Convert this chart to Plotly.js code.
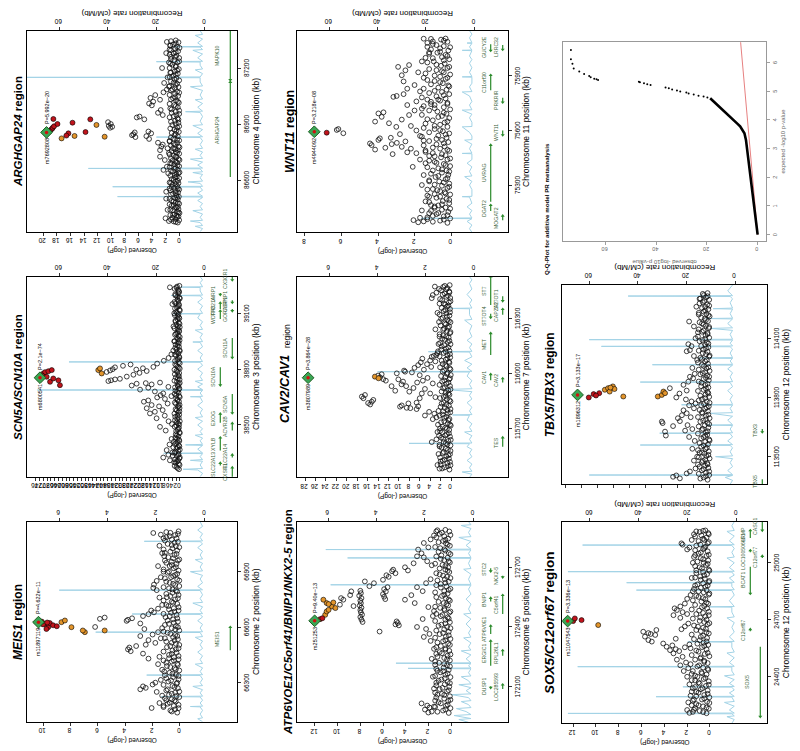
<!DOCTYPE html>
<html><head><meta charset="utf-8">
<script src="https://cdn.plot.ly/plotly-3.0.1.min.js"></script>
<style>
html,body{margin:0;padding:0;background:#fff;overflow:hidden;width:800px;height:751px;}
#wrap{position:absolute;left:0;top:0;width:751px;height:800px;transform-origin:0 0;transform:translate(0px,751px) rotate(-90deg);}
#plot{width:751px;height:800px;}
</style></head><body>
<div id="wrap"><div id="plot"></div></div>
<script>
// ---------------- DATA ----------------
// lead SNPs, panel order: MEIS1, SCN5A/SCN10A, ARGHGAP24, ATP6V0E1, CAV2/CAV1, WNT11, SOX5, TBX5/TBX3
const leadSnp  = ['rs11897119','rs6800541','rs7692808','rs251253','rs3807989','rs4944092','rs11047543','rs1896312'];
const leadPval = ['P=4.622e\u221211','P=2.1e\u221274','P=5.992e\u221220','P=9.40e\u221213','P=3.864e\u221228','P=3.218e\u221208','P=3.336e\u221213','P=3.133e\u221217'];
const leadPos  = [66627, 38754, 86855, 172431, 115976, 75593, 24693, 113813];
const leadLogP = [10.34, 73.7, 19.5, 12.03, 27.41, 7.49, 12.48, 16.5];

// ---- MEIS1 (chr2) ----
const meis1Snps = [[66138,0.2],[66150,0.7],[66162,0.1],[66174,0.45],[66186,0.9],[66198,0.3],[66210,0.6],[66222,0.05],[66234,0.8],[66246,0.35],[66258,1.0],[66270,0.15],[66282,0.55],[66294,0.25],[66306,0.85],[66318,0.1],[66330,0.5],[66342,0.3],[66354,0.75],[66366,0.05],[66378,0.4],[66390,0.95],[66402,0.2],[66414,0.6],[66426,0.1],[66438,0.45],[66450,0.8],[66462,0.25],[66474,0.55],[66486,0.1],[66498,0.7],[66510,0.3],[66522,1.0],[66534,0.15],[66546,0.5],[66558,0.35],[66570,0.9],[66582,0.05],[66594,0.6],[66606,0.3],[66618,0.8],[66630,0.15],[66642,0.5],[66654,1.05],[66666,0.25],[66678,0.65],[66690,0.1],[66702,0.45],[66714,0.85],[66726,0.2],[66738,0.6],[66750,0.35],[66762,0.95],[66774,0.1],[66786,0.55],[66798,0.3],[66810,0.8],[66822,0.05],[66834,0.5],[66846,1.0],[66858,0.2],[66870,0.65],[66882,0.35],[66894,0.9],[66906,0.1],[66918,0.45],[66930,0.75],[66942,0.25],[66954,0.6],[66966,0.05],[66978,0.85],[66990,0.4],[67002,1.1],[67014,0.2],[67026,0.55],[67038,0.3],[67050,0.9],[67062,0.15],[67074,0.6],[67086,1.0],[67098,0.35],[67110,0.7],[67118,0.1],
 [66163,2.07],[66175,1.2],[66190,1.5],[66205,1.0],[66230,1.3],[66250,1.7],[66264,2.9],[66272,2.5],[66280,2.7],[66290,2.0],[66300,1.8],[66315,1.4],[66340,1.1],[66370,1.3],[66400,1.6],[66420,1.2],[66430,2.3],[66440,1.5],[66457,2.7],[66470,3.6],[66480,3.8],[66490,3.7],[66498,3.2],[66505,2.5],[66515,1.8],[66530,2.3],[66540,1.4],[66552,2.9],[66560,2.0],[66573,1.6],[66590,2.6],[66595,1.3],[66601,6.2],[66645,5.85],[66652,5.5],[66634,3.9],[66640,3.8],[66648,3.5],[66620,2.9],[66660,2.7],[66670,2.3],[66680,1.9],[66690,2.1],[66700,1.6],[66720,1.3],[66760,1.5],[66800,1.7],[66812,1.95],[66830,1.9],[66850,1.7],[66870,1.4],[66900,1.2],[66930,1.6],[66960,1.1],[67000,1.3],[67040,1.5],[67080,1.2],[67100,1.4],[67109,1.95]];
const meis1Snps2 = [[66144,0.6],[66156,0.35],[66168,1.2],[66180,0.1],[66192,0.75],[66204,0.4],[66216,1.1],[66228,0.25],[66240,0.6],[66252,0.05],[66264,0.9],[66276,0.4],[66288,1.2],[66300,0.2],[66312,0.65],[66324,1.0],[66336,0.1],[66348,0.55],[66360,1.15],[66372,0.3],[66384,0.7],[66396,0.15],[66408,1.0],[66420,0.45],[66432,0.8],[66444,0.1],[66456,0.6],[66468,1.2],[66480,0.3],[66492,0.95],[66504,0.05],[66516,0.6],[66528,0.4],[66540,1.1],[66552,0.2],[66564,0.7],[66576,1.2],[66588,0.35],[66600,0.15],[66612,1.1],[66624,0.45],[66636,0.9],[66648,0.2],[66660,0.75],[66672,1.2],[66684,0.4],[66696,0.8],[66708,0.1],[66720,1.0],[66732,0.5],[66744,1.2],[66756,0.15],[66768,0.7],[66780,1.0],[66792,0.2],[66804,0.55],[66816,1.2],[66828,0.35],[66840,0.75],[66852,0.05],[66864,1.1],[66876,0.5],[66888,0.2],[66900,0.8],[66912,1.2],[66924,0.3],[66936,0.6],[66948,1.0],[66960,0.15],[66972,0.5],[66984,1.15],[66996,0.25],[67008,0.7],[67020,1.2],[67032,0.05],[67044,0.6],[67056,0.4],[67068,1.1],[67080,0.25],[67092,0.75],[67104,0.15],[67114,1.0]];
const meis1Red = [[66618,9.88],[66600,9.63],[66622,9.51],[66610,9.27],[66590,9.76],[66605,9.0],[66615,10.0],[66630,10.1],[66625,9.7]];
const meis1Orange = [[66627,8.66],[66636,8.41],[66600,7.93],[66573,6.95],[66582,7.1],[66582,5.5]];
const meis1Recomb = [[66089,1],[66105,3],[66110,1],[66130,2],[66150,1],[66169,2],[66171,6],[66173,1],[66190,2],[66205,1],[66223,2],[66225,18],[66227,1],[66245,2],[66262,1],[66280,5],[66284,1],[66300,2],[66320,1],[66339,2],[66341,24],[66343,1],[66360,2],[66380,1],[66400,4],[66404,1],[66425,2],[66445,1],[66465,3],[66485,1],[66505,2],[66525,1],[66545,4],[66549,1],[66571,2],[66573,45],[66575,1],[66595,2],[66615,1],[66635,3],[66655,1],[66669,2],[66671,30],[66673,1],[66690,2],[66710,1],[66730,5],[66734,1],[66755,2],[66775,1],[66798,2],[66800,60],[66802,1],[66820,3],[66840,1],[66860,2],[66880,1],[66900,6],[66904,1],[66925,2],[66945,1],[66965,4],[66969,1],[66990,2],[67010,1],[67030,3],[67050,1],[67062,2],[67064,25],[67066,1],[67085,2],[67105,1],[67125,3],[67145,1],[67170,2]];
const meis1Genes = [['MEIS1',66475,66600,'+',2]];

// ---- SCN5A/SCN10A (chr3) ----
const scnSnps = [[38262,0.5],[38274,1.8],[38285,0.2],[38297,2.3],[38309,1.0],[38320,0.3],[38332,1.6],[38344,0.7],[38356,2.4],[38367,0.1],[38379,1.2],[38391,0.6],[38403,2.0],[38414,0.3],[38426,1.5],[38438,0.8],[38450,2.2],[38461,0.2],[38473,1.1],[38485,0.5],[38497,1.9],[38508,0.9],[38520,0.1],[38532,1.4],[38544,2.5],[38555,0.4],[38567,1.0],[38579,1.7],[38591,0.2],[38602,0.8],[38614,2.1],[38626,0.5],[38638,1.3],[38650,0.1],[38661,1.9],[38673,0.7],[38685,2.4],[38697,0.3],[38708,1.0],[38720,0.6],[38732,1.6],[38744,0.2],[38756,2.2],[38767,0.9],[38779,0.4],[38791,1.8],[38803,0.1],[38814,1.2],[38826,2.5],[38838,0.6],[38850,1.4],[38861,0.3],[38873,2.0],[38885,0.8],[38897,0.1],[38908,1.7],[38920,0.5],[38932,2.3],[38944,1.0],[38955,0.2],[38967,1.5],[38979,0.7],[38991,2.1],[39002,0.4],[39014,1.1],[39026,0.1],[39038,1.9],[39049,0.6],[39061,2.4],[39073,0.3],[39085,1.3],[39096,0.8],[39108,2.0],[39120,0.2],[39132,1.6],[39143,0.5],[39155,2.2],[39167,0.9],[39179,0.1],[39190,1.4],[39202,2.5],[39214,0.4],[39226,1.0],[39238,1.8],[39248,0.3],
 [38300,3.0],[38310,5.3],[38325,8.8],[38335,3.8],[38340,6.1],[38352,4.0],[38365,7.0],[38380,3.5],[38395,5.5],[38410,3.2],[38425,4.4],[38470,7.5],[38490,10.5],[38505,4.2],[38520,6.0],[38536,12.3],[38550,8.0],[38562,15.8],[38571,13.2],[38580,9.1],[38590,17.5],[38600,11.0],[38607,14.9],[38615,6.5],[38625,19.0],[38632,16.7],[38640,7.9],[38648,12.0],[38655,4.5],[38660,10.2],[38670,8.8],[38680,13.2],[38690,21.0],[38700,16.7],[38705,6.1],[38712,25.4],[38718,14.9],[38722,22.8],[38725,18.0],[38728,10.5],[38736,37.7],[38740,36.3],[38745,34.2],[38748,31.6],[38760,28.0],[38770,24.5],[38780,21.3],[38785,38.6],[38790,17.5],[38793,36.8],[38798,23.0],[38800,35.4],[38805,19.5],[38810,34.2],[38812,14.0],[38818,30.0],[38825,26.0],[38830,12.0],[38845,8.5],[38860,6.0],[38880,4.5],[38900,3.5],[38950,3.0],[39030,3.4],[39100,3.0],[39150,4.0],[39240,5.3]];
const scnSnps2 = [[38268,1.2],[38280,2.8],[38291,0.6],[38303,1.5],[38315,2.6],[38326,0.1],[38338,1.0],[38350,2.9],[38361,0.9],[38373,1.8],[38385,0.3],[38397,2.7],[38408,1.3],[38420,0.5],[38432,2.4],[38444,1.6],[38456,0.1],[38467,2.0],[38479,0.9],[38491,2.8],[38502,0.4],[38514,1.7],[38526,2.6],[38538,0.6],[38549,1.3],[38561,2.9],[38573,0.3],[38585,2.3],[38596,1.1],[38608,0.2],[38620,2.7],[38632,1.2],[38644,2.0],[38655,0.4],[38667,2.8],[38679,1.5],[38691,0.6],[38702,2.6],[38714,1.3],[38726,0.1],[38738,2.9],[38750,1.1],[38761,0.5],[38773,2.7],[38785,1.4],[38797,2.9],[38808,0.6],[38820,1.9],[38832,0.1],[38844,2.6],[38855,1.0],[38867,0.4],[38879,2.7],[38891,1.6],[38902,0.2],[38914,2.5],[38926,1.2],[38938,0.6],[38950,2.8],[38961,1.0],[38973,0.1],[38985,2.6],[38996,1.4],[39008,0.5],[39020,2.9],[39032,1.0],[39043,0.2],[39055,2.3],[39067,1.2],[39079,0.6],[39090,2.7],[39102,1.5],[39114,0.1],[39126,2.6],[39137,1.1],[39149,0.6],[39161,2.9],[39173,1.3],[39184,0.2],[39196,2.4],[39208,1.0],[39220,0.6],[39232,2.8],[39244,1.5]];
const scnRed = [[38777,71.9],[38759,70.2],[38732,68.4],[38750,66.7],[38740,64.0],[38714,63.2],[38784,71.0],[38789,69.3],[38795,67.5],[38765,72.5]];
const scnOrange = [[38795,43.0],[38804,42.1],[38777,41.2]];
const scnRecomb = [[38222,2],[38240,1],[38258,3],[38262,9],[38266,1],[38285,2],[38305,1],[38310,6],[38314,1],[38330,2],[38346,1],[38348,17],[38350,1],[38370,3],[38390,1],[38393,8],[38396,1],[38415,2],[38430,1],[38445,4],[38449,1],[38465,2],[38480,1],[38500,3],[38520,1],[38540,4],[38544,1],[38565,2],[38585,1],[38605,3],[38625,1],[38650,2],[38652,6],[38654,1],[38672,2],[38686,1],[38688,69],[38690,1],[38705,3],[38720,1],[38735,4],[38740,1],[38760,2],[38780,1],[38800,3],[38820,1],[38837,2],[38839,56],[38841,1],[38860,2],[38880,1],[38900,3],[38920,1],[38944,2],[38946,5],[38948,1],[38970,2],[38990,1],[39010,4],[39014,1],[39035,2],[39055,1],[39075,3],[39096,2],[39098,13],[39100,1],[39120,2],[39140,1],[39160,3],[39180,1],[39194,2],[39196,14],[39198,1],[39220,2],[39239,2],[39241,10],[39243,1],[39265,2],[39280,1],[39297,2]];
const scnGenes = [['OXSR1',38181,38271,'+',1],['SLC22A13',38282,38295,'+',0],['SLC22A14',38325,38340,'+',1],['XYLB',38363,38432,'+',0],['ACVR2B',38470,38509,'+',1],['EXOG',38512,38560,'+',0],['SCN5A',38564,38666,'-',1],['SCN10A',38714,38810,'-',0],['SCN11A',38862,38967,'-',1],['WDR48',39069,39113,'+',0],['GORASP1',39113,39124,'-',1],['TTC21A',39124,39156,'+',0],['CSRNP1',39158,39171,'-',1],['XIRP1',39200,39209,'-',0],['CX3CR1',39279,39297,'-',1]];

// ---- ARGHGAP24 (chr4) ----
const argSnps = [[86372,0.3],[86378,0.9],[86385,0.1],[86391,0.6],[86398,1.1],[86404,0.2],[86410,0.5],[86417,0.8],[86423,0.05],[86430,0.4],[86437,1.0],[86444,0.2],[86451,0.7],[86458,0.3],[86466,0.9],[86473,0.1],[86480,0.6],[86489,1.2],[86496,0.3],[86503,0.7],[86511,0.15],[86518,0.5],[86526,1.0],[86534,0.25],[86541,0.6],[86549,0.1],[86558,0.8],[86566,0.35],[86574,1.1],[86583,0.2],[86591,0.55],[86600,0.9],[86610,0.1],[86619,0.45],[86628,0.75],[86637,0.2],[86646,1.0],[86655,0.3],[86664,0.6],[86674,0.1],[86684,0.8],[86693,0.4],[86703,1.1],[86712,0.2],[86722,0.5],[86731,0.9],[86741,0.1],[86750,0.6],[86760,0.3],[86770,1.0],[86780,0.2],[86790,0.7],[86800,0.4],[86812,0.1],[86822,0.9],[86834,0.3],[86846,0.6],[86858,0.15],[86870,0.8],[86882,0.4],[86895,1.1],[86906,0.2],[86918,0.7],[86930,0.35],[86942,0.9],[86954,0.1],[86966,0.6],[86978,1.2],[86990,0.3],[87002,0.8],[87014,0.15],[87026,0.55],[87038,1.0],[87050,0.25],[87062,0.7],[87074,0.4],[87086,1.1],[87098,0.2],[87110,0.6],[87122,0.9],[87134,0.1],[87146,0.5],[87158,1.0],[87170,0.3],[87182,0.75],[87194,0.15],[87206,0.6],[87218,1.1],[87230,0.35],[87242,0.8],[87254,0.1],[87266,0.5],[87278,0.9],[87290,0.25],[87302,0.7],[87314,0.4],[87326,1.0],[87338,0.2],[87348,0.6],
 [86380,1.6],[86395,2.1],[86412,1.4],[86440,1.8],[86470,1.5],[86500,2.0],[86537,2.0],[86555,1.5],[86585,1.3],[86636,1.7],[86654,2.4],[86671,1.9],[86690,1.4],[86707,2.2],[86725,2.9],[86745,1.6],[86760,2.9],[86770,1.8],[86779,2.7],[86790,2.5],[86800,3.2],[86810,1.5],[86820,4.5],[86835,4.9],[86850,4.2],[86860,4.6],[86830,6.5],[86845,6.8],[86855,6.6],[86840,7.0],[86880,10.2],[86890,10.4],[86900,10.1],[86910,10.5],[86885,9.9],[86925,5.2],[86935,6.3],[86940,5.9],[86948,2.5],[86960,3.2],[86975,2.8],[87000,4.1],[87010,4.5],[87020,3.9],[87030,2.9],[87040,4.3],[87055,3.6],[87070,2.4],[87085,1.9],[87100,1.6],[87120,2.3],[87150,1.8],[87175,1.4],[87200,2.6],[87230,1.6],[87260,1.3],[87280,2.0],[87300,1.5],[87320,1.4],[87340,1.9]];
const argSnps2 = [[86375,0.6],[86388,1.3],[86401,0.4],[86414,1.0],[86427,0.2],[86440,1.4],[86453,0.5],[86462,1.2],[86477,0.3],[86485,0.9],[86499,1.5],[86507,0.4],[86522,1.3],[86530,0.6],[86545,1.4],[86553,0.3],[86562,1.2],[86578,0.6],[86587,1.5],[86596,0.3],[86605,1.2],[86614,0.7],[86623,1.4],[86632,0.5],[86641,0.05],[86650,1.3],[86660,0.8],[86669,1.5],[86679,0.35],[86688,1.2],[86698,0.6],[86707,0.05],[86717,1.3],[86726,0.6],[86736,1.5],[86746,0.4],[86755,1.2],[86765,0.7],[86775,0.05],[86785,1.3],[86795,0.9],[86806,1.5],[86816,0.4],[86828,1.3],[86840,0.8],[86852,1.2],[86864,0.5],[86876,1.4],[86888,0.1],[86900,0.6],[86912,1.3],[86924,0.2],[86936,1.5],[86948,0.5],[86960,1.2],[86972,0.1],[86984,1.4],[86996,0.6],[87008,1.5],[87020,0.3],[87032,1.3],[87044,0.7],[87056,1.5],[87068,0.1],[87080,1.3],[87092,0.7],[87104,1.5],[87116,0.4],[87128,1.3],[87140,0.8],[87152,1.5],[87164,0.6],[87176,1.3],[87188,0.4],[87200,1.5],[87212,0.6],[87224,1.4],[87236,0.1],[87248,1.3],[87260,0.7],[87272,1.5],[87284,0.6],[87296,1.3],[87308,0.05],[87320,1.4],[87332,0.6],[87344,1.3]];
const argRed = [[86862,19.1],[86868,18.9],[86874,18.7],[86880,18.6],[86888,18.4],[86900,17.9],[86927,18.5],[86907,15.7],[86925,13.1],[86857,13.8],[86850,16.3],[86838,16.6]];
const argOrange = [[86823,17.3],[86836,15.4],[86895,12.2],[86832,11.0]];
const argRecomb = [[86323,2],[86340,1],[86352,4],[86356,1],[86372,2],[86380,6],[86384,1],[86400,2],[86418,1],[86436,5],[86440,1],[86458,2],[86474,1],[86490,3],[86506,1],[86509,2],[86511,36],[86513,1],[86530,3],[86545,1],[86562,2],[86564,38],[86566,1],[86582,2],[86590,7],[86594,1],[86612,2],[86630,1],[86640,5],[86644,1],[86660,2],[86662,48],[86664,1],[86680,3],[86696,1],[86712,6],[86716,1],[86732,2],[86750,1],[86765,4],[86770,1],[86790,2],[86810,1],[86828,2],[86830,20],[86832,1],[86850,3],[86870,1],[86892,5],[86896,1],[86915,2],[86940,1],[86962,2],[86966,8],[86969,1],[86990,3],[87010,1],[87030,4],[87034,1],[87055,2],[87080,1],[87100,6],[87104,1],[87125,2],[87148,2],[87150,80],[87152,2],[87170,1],[87190,4],[87195,1],[87215,2],[87232,2],[87234,20],[87236,1],[87255,3],[87275,1],[87295,5],[87299,1],[87312,2],[87314,13],[87316,1],[87335,3],[87355,1],[87375,4],[87380,1],[87400,2]];
const argGenes = [['ARHGAP24',86616,87125,'+',2],['MAPK10',87136,87420,'-',2]];

// ---- ATP6V0E1/C5orf41/BNIP1/NKX2-5 (chr5) ----
const atpSnps = [[171968,0.2],[171980,0.7],[171992,0.05],[172004,0.45],[172016,0.9],[172028,0.25],[172040,0.6],[172052,0.1],[172064,0.8],[172076,0.35],[172088,1.0],[172100,0.15],[172112,0.55],[172124,0.3],[172136,0.85],[172148,0.05],[172160,0.5],[172172,0.95],[172184,0.2],[172196,0.65],[172208,0.35],[172220,1.05],[172232,0.1],[172244,0.6],[172256,0.3],[172268,0.8],[172280,0.15],[172292,0.5],[172304,0.9],[172316,0.25],[172328,0.7],[172340,0.05],[172352,0.45],[172364,1.0],[172376,0.2],[172388,0.6],[172400,0.35],[172412,0.85],[172424,0.1],[172436,0.5],[172448,0.3],[172460,0.75],[172472,0.15],[172484,0.55],[172496,0.95],[172508,0.25],[172520,0.65],[172532,0.1],[172544,0.45],[172556,0.8],[172568,0.3],[172580,0.6],[172592,0.05],[172604,0.4],[172616,0.9],[172628,0.2],[172640,0.55],[172652,0.35],[172664,1.0],[172676,0.15],[172688,0.5],[172700,0.25],[172712,0.75],[172724,0.1],[172736,0.6],[172748,0.3],[172760,0.85],[172772,0.2],[172784,0.5],[172796,0.95],[172808,0.1],[172820,0.45],[172832,0.7],[172844,0.25],[172856,0.6],[172868,1.0],[172880,0.15],[172888,0.5],
 [171970,2.0],[171975,1.7],[171985,2.3],[171995,1.9],[172005,2.1],[172016,2.6],[172000,1.5],[172030,1.4],[172060,1.2],[172090,1.5],[172120,1.3],[172150,1.6],[172180,1.2],[172210,1.4],[172240,1.7],[172265,1.3],[172290,1.5],[172330,1.8],[172350,2.4],[172365,1.9],[172377,6.3],[172390,2.2],[172408,4.6],[172413,4.9],[172420,4.7],[172428,4.8],[172400,3.0],[172440,2.5],[172455,1.6],
 [172425,7.8],[172437,7.9],[172450,8.0],[172462,7.85],[172473,7.95],[172485,8.0],[172497,7.9],[172508,8.05],[172520,7.95],[172532,8.0],[172545,7.9],[172557,8.1],[172570,7.95],[172582,8.0],
 [172512,9.8],[172537,9.5],[172545,9.7],[172560,8.9],[172505,8.6],[172579,8.8],[172629,7.6],[172605,7.2],[172620,6.8],[172540,5.8],[172552,5.9],[172565,6.0],[172578,5.75],[172590,5.9],[172600,5.6],
 [172637,6.0],[172660,5.7],[172652,5.5],[172680,5.2],[172688,5.1],[172670,4.9],[172700,4.06],[172684,3.8],[172720,3.3],[172755,3.0],[172789,2.9],[172770,2.6],[172750,2.4],[172822,2.4],[172800,2.0],[172840,1.8],[172860,1.5],[172880,1.3],[172730,2.1],[172710,1.7],
 [172537,4.06],[172560,3.5],[172520,3.2],[172580,2.5],[172600,3.0],[172620,2.2],[172640,1.8],[172500,2.0],[172480,1.5]];
const atpSnps2 = [[171974,1.2],[171986,0.5],[171998,1.4],[172010,0.3],[172022,1.1],[172034,0.05],[172046,1.3],[172058,0.6],[172070,1.4],[172082,0.2],[172094,0.75],[172106,1.3],[172118,0.1],[172130,1.1],[172142,0.55],[172154,1.4],[172166,0.3],[172178,0.7],[172190,1.3],[172202,0.1],[172214,0.6],[172226,1.4],[172238,0.35],[172250,1.2],[172262,0.05],[172274,1.0],[172286,0.5],[172298,1.3],[172310,0.1],[172322,1.2],[172334,0.5],[172346,1.4],[172358,0.2],[172370,0.7],[172382,1.3],[172394,0.05],[172406,1.1],[172418,0.5],[172430,1.4],[172442,0.2],[172454,0.9],[172466,1.3],[172478,0.05],[172490,0.6],[172502,1.4],[172514,0.4],[172526,1.1],[172538,0.2],[172550,1.3],[172562,0.6],[172574,1.4],[172586,0.2],[172598,0.9],[172610,1.3],[172622,0.5],[172634,1.2],[172646,0.05],[172658,0.7],[172670,1.3],[172682,0.3],[172694,1.0],[172706,0.5],[172718,1.4],[172730,0.2],[172742,0.9],[172754,1.3],[172766,0.05],[172778,1.1],[172790,0.6],[172802,1.4],[172814,0.3],[172826,1.1],[172838,0.5],[172850,1.3],[172862,0.05],[172874,0.8],[172886,1.2]];
const atpRed = [[172439,11.56],[172444,11.35]];
const atpOrange = [[172461,11.1],[172478,10.97],[172486,10.8],[172503,10.5],[172523,10.38],[172520,10.97],[172515,10.8],[172537,11.26],[172495,10.2]];
const atpRecomb = [[171921,2],[171935,6],[171940,1],[171955,8],[171960,1],[171975,3],[171990,7],[171995,1],[172010,2],[172025,5],[172030,1],[172045,2],[172060,9],[172064,1],[172080,3],[172095,1],[172110,6],[172114,1],[172130,2],[172150,5],[172154,1],[172170,2],[172190,1],[172192,27],[172194,1],[172205,2],[172216,1],[172218,32],[172220,1],[172240,3],[172260,1],[172280,5],[172284,1],[172300,2],[172320,1],[172345,4],[172349,1],[172370,2],[172390,1],[172415,3],[172440,1],[172465,4],[172469,1],[172490,2],[172515,1],[172540,3],[172565,1],[172590,2],[172610,1],[172612,59],[172614,1],[172640,2],[172665,1],[172690,4],[172694,1],[172720,2],[172745,1],[172747,52],[172749,1],[172770,2],[172787,1],[172789,61],[172791,1],[172810,3],[172830,1],[172850,6],[172854,1],[172875,2],[172895,1],[172910,5],[172914,1],[172929,2]];
const atpGenes = [['LOC285593',172088,172110,'+',1],['DUSP1',172095,172102,'-',0],['ERGIC1',172205,172330,'+',0],['RPL26L1',172255,172282,'+',1],['ATP6V0E1',172365,172405,'+',0],['C5orf41',172465,172560,'+',1],['BNIP1',172528,172545,'+',0],['NKX2-5',172650,172658,'-',1],['STC2',172680,172695,'-',0]];

// ---- CAV2/CAV1 (chr7) ----
const cavSnps = [[115475,0.3],[115487,1.2],[115499,0.1],[115511,0.7],[115523,1.6],[115535,0.4],[115547,0.9],[115559,0.2],[115571,1.4],[115583,0.6],[115595,1.8],[115607,0.1],[115619,1.0],[115631,0.5],[115643,1.5],[115655,0.2],[115667,0.8],[115679,1.7],[115691,0.35],[115703,1.1],[115715,0.05],[115727,0.6],[115739,1.3],[115751,0.3],[115763,0.9],[115775,1.6],[115787,0.15],[115799,0.7],[115811,1.2],[115823,0.4],[115835,1.8],[115847,0.1],[115859,0.8],[115871,1.4],[115883,0.3],[115895,1.0],[115907,0.55],[115919,1.5],[115931,0.2],[115943,0.9],[115955,1.7],[115967,0.35],[115979,1.1],[115991,0.05],[116003,0.65],[116015,1.3],[116027,0.25],[116039,0.85],[116051,1.6],[116063,0.4],[116075,1.0],[116087,0.15],[116099,0.7],[116111,1.4],[116123,0.3],[116135,0.95],[116147,1.8],[116159,0.1],[116171,0.6],[116183,1.2],[116195,0.45],[116207,1.5],[116219,0.2],[116231,0.8],[116243,1.3],[116255,0.35],[116267,1.0],[116279,0.1],[116291,0.7],[116303,1.6],[116315,0.3],[116327,0.9],[116339,1.4],[116351,0.2],[116363,0.75],[116375,1.1],[116387,0.4],[116399,1.7],[116411,0.15],[116423,0.6],[116435,1.2],[116447,0.35],[116459,0.9],[116471,1.5],[116481,0.25],
 [115480,2.2],[115500,2.6],[115520,2.0],[115560,2.4],[115610,2.2],[115625,3.7],[115640,2.8],[115660,2.3],[115680,2.6],[115700,2.1],[115720,2.5],[115750,3.5],[115770,5.0],[115790,4.2],[115805,6.6],[115810,7.8],[115818,9.78],[115825,9.46],[115812,8.5],[115836,8.18],[115840,6.6],[115820,6.3],[115890,5.6],[115864,6.0],[115760,2.8],[115780,3.2],[115795,2.4],
 [115873,17.1],[115864,16.8],[115882,16.5],[115845,15.2],[115855,14.9],[115838,15.9],[115830,15.5],[115978,13.6],[115968,13.0],[115960,12.5],[115995,13.3],[115988,14.0],[115967,10.1],[115940,9.5],[116009,8.8],[115930,11.4],[115905,10.7],[115900,8.0],[115920,7.2],[115950,6.5],[115960,5.4],[115975,4.5],[115990,6.0],[116005,7.5],[116020,5.2],[116035,3.8],[116050,4.6],[116065,3.0],[116080,5.5],[116095,3.3],[116110,2.6],[115915,5.0],[115890,4.0],[115870,3.0],[115945,3.5],[115930,8.6],[115955,9.2],[116000,10.4],[116015,9.0],[116030,7.0],[116045,6.3],[116060,5.8],[116070,4.0],[116090,3.7],[116100,2.8],[116120,2.5],
 [116160,2.4],[116200,2.2],[116240,3.0],[116280,2.3],[116330,2.6],[116380,2.2],[116410,3.7],[116427,3.5],[116440,2.8],[116460,2.3],[116473,3.1]];
const cavSnps2 = [[115481,1.7],[115493,0.6],[115505,2.0],[115517,0.2],[115529,1.2],[115541,2.1],[115553,0.5],[115565,1.6],[115577,0.1],[115589,1.0],[115601,2.2],[115613,0.7],[115625,1.4],[115637,0.05],[115649,1.9],[115661,1.1],[115673,0.4],[115685,2.1],[115697,0.8],[115709,1.6],[115721,0.2],[115733,1.9],[115745,0.5],[115757,1.3],[115769,2.2],[115781,0.6],[115793,1.5],[115805,0.1],[115817,2.0],[115829,0.9],[115841,1.4],[115853,0.3],[115865,2.1],[115877,1.0],[115889,0.5],[115901,1.8],[115913,0.1],[115925,1.2],[115937,2.2],[115949,0.5],[115961,1.3],[115973,0.2],[115985,1.9],[115997,0.8],[116009,1.6],[116021,0.1],[116033,2.1],[116045,1.1],[116057,0.3],[116069,1.8],[116081,0.7],[116093,2.2],[116105,0.2],[116117,1.0],[116129,1.9],[116141,0.5],[116153,1.3],[116165,2.1],[116177,0.3],[116189,1.7],[116201,0.9],[116213,2.2],[116225,0.1],[116237,1.5],[116249,0.6],[116261,2.0],[116273,1.2],[116285,0.4],[116297,1.9],[116309,0.8],[116321,2.2],[116333,0.2],[116345,1.1],[116357,1.8],[116369,0.5],[116381,1.4],[116393,0.1],[116405,2.1],[116417,0.9],[116429,1.6],[116441,0.3],[116453,1.9],[116465,0.7],[116477,1.2]];
const cavRed = [];
const cavOrange = [[115982,14.6],[115973,13.9]];
const cavRecomb = [[115433,2],[115450,1],[115462,5],[115466,1],[115485,2],[115505,1],[115525,3],[115545,1],[115565,2],[115585,1],[115600,3],[115616,2],[115618,27],[115620,1],[115640,2],[115660,1],[115680,4],[115684,1],[115705,2],[115725,1],[115745,3],[115771,2],[115773,9],[115775,1],[115795,2],[115815,1],[115840,3],[115860,1],[115880,2],[115900,1],[115912,12],[115916,1],[115940,2],[115960,1],[115985,3],[116007,2],[116009,40],[116011,1],[116030,3],[116050,1],[116070,4],[116090,1],[116116,2],[116118,19],[116120,1],[116140,2],[116160,1],[116180,3],[116200,1],[116230,2],[116260,1],[116290,4],[116294,1],[116320,2],[116352,2],[116354,10],[116356,1],[116380,2],[116400,1],[116430,3],[116460,1],[116490,2],[116510,1],[116527,2]];
const cavGenes = [['TES',115600,115650,'+',1],['CAV2',115950,115972,'+',1],['CAV1',115962,115995,'+',0],['MET',116100,116218,'+',0],['ST7OT4',116305,116325,'-',0],['CAPZA2',116320,116350,'+',1],['ST7',116372,116527,'+',0],['ST7OT1',116395,116420,'-',1]];

// ---- WNT11 (chr11) ----
const wntSnps = [[75092,0.2],[75104,0.6],[75116,0.05],[75128,0.4],[75140,0.8],[75152,0.15],[75164,0.5],[75176,0.3],[75188,0.7],[75200,0.1],[75212,0.45],[75224,0.25],[75236,0.6],[75248,0.05],[75260,0.35],[75272,0.75],[75284,0.2],[75296,0.5],[75308,0.1],[75320,0.65],[75332,0.3],[75344,0.85],[75356,0.15],[75368,0.5],[75380,0.25],[75392,0.7],[75404,0.05],[75416,0.4],[75428,0.9],[75440,0.2],[75452,0.55],[75464,0.3],[75476,1.0],[75488,0.1],[75500,0.6],[75512,0.35],[75524,0.8],[75536,0.15],[75548,0.5],[75560,0.25],[75572,0.7],[75584,0.1],[75596,0.45],[75608,0.9],[75620,0.2],[75632,0.6],[75644,0.35],[75656,1.0],[75668,0.1],[75680,0.5],[75692,0.25],[75704,0.75],[75716,0.05],[75728,0.4],[75740,0.9],[75752,0.2],[75764,0.6],[75776,0.3],[75788,0.8],[75800,0.1],[75812,0.5],[75824,0.25],[75836,0.7],[75848,0.15],[75860,0.45],[75872,0.9],[75884,0.3],[75896,0.6],[75908,0.05],[75920,0.4],[75932,0.8],[75944,0.2],[75956,0.55],[75968,0.35],[75980,0.95],[75992,0.1],[76004,0.5],[76016,0.3],[76028,0.75],[76040,0.15],[76052,0.6],[76064,0.4],[76076,1.0],[76088,0.2],[76100,0.55],[76106,0.3],
 [75095,1.8],[75100,1.5],[75107,2.06],[75112,1.3],[75120,1.7],[75130,1.0],[75145,1.2],[75160,1.6],[75175,0.9],[75190,1.1],[75210,1.4],[75235,1.2],[75250,0.9],[75275,1.3],[75300,1.6],[75320,1.2],[75355,1.5],[75380,1.0],[75400,2.1],[75420,1.4],[75440,1.7],[75460,1.2],[75475,1.9],[75490,1.4],[75500,2.2],
 [75603,6.26],[75608,6.17],[75585,5.9],[75529,4.44],[75557,3.9],[75548,3.98],[75520,4.35],[75495,4.16],[75505,3.6],[75560,3.3],[75525,3.25],[75532,2.97],[75470,3.2],[75649,4.16],[75694,3.98],[75675,3.8],[75700,3.7],[75640,3.4],[75620,3.0],[75580,2.8],[75540,2.5],[75510,2.7],[75480,2.4],[75660,2.7],[75685,2.3],[75710,2.0],[75625,2.2],[75600,1.9],[75570,1.7],[75545,1.5],[75720,1.6],[75740,2.4],[75760,1.9],[75785,3.16],[75790,2.98],[75800,2.6],[75830,2.4],[75850,2.0],[75870,2.6],[75904,2.7],[75931,2.5],[75950,2.9],[75960,2.3],[75920,1.8],[75890,1.5],[75815,1.7],[75770,1.3],[75745,1.1],[75980,1.6],[76000,1.4],[76030,1.2],[76060,1.3],[76090,1.0],[76105,1.5]];
const wntSnps2 = [[75098,1.0],[75110,0.4],[75122,1.3],[75134,0.2],[75146,0.7],[75158,1.1],[75170,0.05],[75182,0.9],[75194,0.5],[75206,1.2],[75218,0.1],[75230,0.8],[75242,1.3],[75254,0.3],[75266,0.6],[75278,1.0],[75290,0.1],[75302,0.9],[75314,0.4],[75326,1.2],[75338,0.2],[75350,0.7],[75362,1.1],[75374,0.1],[75386,0.5],[75398,1.3],[75410,0.3],[75422,0.8],[75434,1.2],[75446,0.05],[75458,0.9],[75470,0.5],[75482,1.4],[75494,0.2],[75506,1.0],[75518,1.5],[75530,0.4],[75542,1.2],[75554,0.8],[75566,1.6],[75578,0.3],[75590,1.2],[75602,0.6],[75614,1.5],[75626,0.9],[75638,1.4],[75650,0.2],[75662,1.3],[75674,0.7],[75686,1.6],[75698,0.4],[75710,1.2],[75722,0.9],[75734,1.5],[75746,0.2],[75758,1.1],[75770,0.7],[75782,1.6],[75794,0.4],[75806,1.2],[75818,0.9],[75830,1.5],[75842,0.1],[75854,1.1],[75866,0.6],[75878,1.3],[75890,0.2],[75902,0.9],[75914,1.4],[75926,0.5],[75938,1.2],[75950,0.1],[75962,0.8],[75974,1.3],[75986,0.4],[75998,1.0],[76010,0.2],[76022,1.2],[76034,0.6],[76046,1.1],[76058,0.05],[76070,0.8],[76082,1.3],[76094,0.4],[76104,1.1]];
const wntRed = [[75588,6.81]];
const wntOrange = [];
const wntRecomb = [[75040,1],[75060,2],[75080,1],[75100,3],[75115,1],[75117,22],[75119,1],[75140,2],[75160,1],[75180,3],[75200,1],[75234,2],[75236,5],[75238,1],[75275,1],[75300,2],[75320,1],[75346,4],[75350,1],[75375,2],[75400,1],[75420,3],[75440,1],[75472,1],[75474,5],[75476,1],[75500,2],[75525,1],[75547,4],[75550,1],[75570,1],[75590,2],[75620,5],[75622,1],[75645,1],[75670,2],[75690,1],[75712,5],[75714,1],[75740,2],[75760,1],[75790,2],[75812,5],[75814,1],[75840,2],[75860,1],[75893,1],[75895,5],[75897,1],[75920,2],[75945,1],[75970,2],[75990,1],[76010,2],[76039,1],[76041,5],[76043,1],[76060,2],[76079,1],[76081,3],[76083,1],[76110,2],[76130,1],[76149,2]];
const wntGenes = [['MOGAT2',75106,75131,'+',1],['DGAT2',75157,75189,'+',0],['UVRAG',75208,75520,'+',0],['WNT11',75575,75600,'-',1],['PRKRIR',75755,75780,'-',1],['C11orf30',75822,75904,'+',0],['GUCY2E',76040,76075,'-',0],['LRRC32',76045,76070,'-',1]];

// ---- SOX5/C12orf67 (chr12) ----
const soxSnps = [[24208,0.3],[24220,0.9],[24232,0.1],[24244,0.6],[24256,1.2],[24268,0.25],[24280,0.7],[24292,0.05],[24304,0.5],[24316,1.0],[24328,0.2],[24340,0.65],[24352,0.35],[24364,0.9],[24376,0.1],[24388,0.55],[24400,1.1],[24412,0.3],[24424,0.75],[24436,0.15],[24448,0.6],[24460,0.95],[24472,0.2],[24484,0.5],[24496,0.85],[24508,0.05],[24520,0.45],[24532,1.0],[24544,0.3],[24556,0.7],[24568,0.15],[24580,0.55],[24592,0.9],[24604,0.25],[24616,0.6],[24628,0.1],[24640,0.8],[24652,0.35],[24664,1.05],[24676,0.2],[24688,0.5],[24700,0.3],[24712,0.85],[24724,0.1],[24736,0.6],[24748,0.95],[24760,0.25],[24772,0.5],[24784,0.15],[24796,0.75],[24808,0.4],[24820,1.0],[24832,0.1],[24844,0.55],[24856,0.3],[24868,0.8],[24880,0.2],[24892,0.6],[24904,0.05],[24916,0.45],[24928,0.85],[24940,0.25],[24952,0.6],[24964,0.1],[24976,0.9],[24988,0.35],[25000,0.55],[25012,0.15],[25024,0.8],[25036,0.3],[25048,1.0],[25060,0.2],[25072,0.6],[25084,0.4],[25096,0.85],[25108,0.1],[25120,0.5],[25132,0.3],[25144,0.75],[25156,0.15],[25168,0.6],
 [24210,1.8],[24215,1.5],[24225,2.0],[24235,1.3],[24250,1.6],[24265,1.9],[24280,1.4],[24300,1.7],[24320,1.2],[24340,1.5],[24360,1.8],[24380,1.3],[24400,2.0],[24415,1.6],[24430,2.3],[24445,1.9],[24460,2.6],[24475,2.1],[24490,2.9],[24505,2.4],[24523,3.2],[24535,2.7],[24545,3.0],[24555,2.2],[24570,1.8],
 [24637,5.85],[24611,5.7],[24630,5.4],[24593,5.4],[24620,4.8],[24646,4.7],[24585,5.1],[24625,5.2],[24575,4.1],[24558,3.8],[24540,3.5],[24565,3.3],[24600,3.0],[24650,2.5],[24665,2.2],[24680,1.9],
 [24724,3.2],[24751,2.9],[24710,2.6],[24770,2.6],[24740,2.4],[24760,3.1],[24730,2.0],[24785,2.2],[24810,2.0],[24830,1.7],[24850,1.5],
 [24880,1.3],[24920,1.6],[24960,1.2],[25000,1.5],[25040,1.3],[25080,1.8],[25102,2.5],[25095,2.4],[25070,2.0],[25120,1.6],[25150,1.4],[25165,1.2]];
const soxSnps2 = [[24214,0.6],[24226,1.4],[24238,0.3],[24250,1.0],[24262,0.05],[24274,1.5],[24286,0.5],[24298,1.2],[24310,0.2],[24322,1.6],[24334,0.8],[24346,1.3],[24358,0.1],[24370,1.0],[24382,1.6],[24394,0.4],[24406,1.3],[24418,0.7],[24430,1.5],[24442,0.2],[24454,1.1],[24466,1.7],[24478,0.5],[24490,1.3],[24502,0.8],[24514,1.6],[24526,0.2],[24538,1.2],[24550,1.7],[24562,0.5],[24574,1.1],[24586,0.3],[24598,1.4],[24610,0.8],[24622,1.6],[24634,0.3],[24646,1.2],[24658,0.6],[24670,1.4],[24682,0.05],[24694,0.9],[24706,1.5],[24718,0.4],[24730,1.2],[24742,0.1],[24754,1.6],[24766,0.7],[24778,1.3],[24790,0.3],[24802,1.5],[24814,0.6],[24826,1.2],[24838,0.05],[24850,1.0],[24862,1.4],[24874,0.4],[24886,1.1],[24898,0.1],[24910,0.8],[24922,1.3],[24934,0.5],[24946,1.2],[24958,0.05],[24970,0.7],[24982,1.3],[24994,0.2],[25006,1.1],[25018,0.6],[25030,1.4],[25042,0.1],[25054,0.8],[25066,1.3],[25078,0.5],[25090,1.2],[25102,0.2],[25114,1.0],[25126,0.6],[25138,1.3],[25150,0.1],[25162,0.9],[25170,0.4]];
const soxRed = [[24693,12.0],[24707,11.85],[24698,11.26]];
const soxOrange = [[24672,9.8]];
const soxRecomb = [[24155,2],[24175,1],[24190,4],[24194,1],[24205,2],[24207,69],[24209,1],[24225,3],[24245,1],[24265,5],[24270,1],[24293,2],[24295,33],[24297,1],[24315,3],[24330,1],[24345,2],[24347,22],[24349,1],[24365,3],[24385,1],[24405,5],[24410,1],[24430,2],[24451,2],[24453,65],[24455,1],[24475,3],[24500,1],[24525,4],[24530,1],[24555,2],[24582,2],[24584,20],[24586,1],[24610,3],[24635,1],[24660,2],[24685,1],[24710,4],[24715,1],[24740,2],[24766,2],[24768,11],[24770,1],[24800,3],[24830,1],[24854,2],[24856,41],[24858,1],[24875,2],[24893,2],[24895,45],[24897,1],[24920,3],[24935,1],[24951,2],[24953,69],[24955,1],[24975,3],[25000,1],[25025,4],[25030,1],[25055,2],[25075,1],[25091,2],[25093,63],[25095,1],[25115,3],[25140,1],[25165,4],[25170,1],[25195,2],[25216,1]];
const soxGenes = [['SOX5',24190,24558,'-',2],['C12orf67',24640,24650,'+',0],['BCAT1',24838,24979,'-',0],['C12orf77',25025,25035,'+',1],['LOC100506451',25055,25065,'+',0],['LRMP',25130,25170,'+',0],['CASC1',25170,25216,'-',1]];

// ---- TBX5/TBX3 (chr12) ----
const tbxSnps = [[113383,0.3],[113395,0.8],[113407,0.1],[113419,0.5],[113431,1.0],[113443,0.2],[113455,0.6],[113467,0.35],[113479,0.9],[113491,0.05],[113503,0.45],[113515,0.7],[113527,0.15],[113539,0.55],[113551,1.1],[113563,0.25],[113575,0.6],[113587,0.1],[113599,0.8],[113611,0.35],[113623,0.5],[113635,1.0],[113647,0.2],[113659,0.65],[113671,0.3],[113683,0.85],[113695,0.05],[113707,0.5],[113719,0.95],[113731,0.25],[113743,0.6],[113755,0.15],[113767,0.75],[113779,0.4],[113791,1.0],[113803,0.1],[113815,0.55],[113827,0.3],[113839,0.8],[113851,0.2],[113863,0.6],[113875,1.05],[113887,0.15],[113899,0.5],[113911,0.35],[113923,0.9],[113935,0.05],[113947,0.45],[113959,0.75],[113971,0.25],[113983,0.6],[113995,1.0],[114007,0.1],[114019,0.5],[114031,0.3],[114043,0.85],[114055,0.2],[114067,0.6],[114079,0.4],[114091,0.95],[114103,0.1],[114115,0.55],[114127,0.3],[114139,0.8],[114151,0.15],[114163,0.5],[114175,1.0],[114187,0.25],[114199,0.65],[114211,0.05],[114223,0.45],[114235,0.8],[114247,0.2],[114259,0.6],[114271,0.35],[114283,0.9],[114295,0.1],[114307,0.5],[114319,0.75],[114329,0.3],
 [113398,4.6],[113405,4.2],[113390,3.75],[113415,2.9],[113425,2.5],[113440,1.8],[113460,1.5],[113480,2.0],[113500,1.6],[113520,1.3],[113540,2.2],
 [113627,5.6],[113678,6.0],[113670,5.9],[113655,4.6],[113695,4.0],[113680,3.75],[113710,3.5],[113632,3.1],[113600,2.6],[113607,5.5],[113580,1.9],[113640,2.2],[113660,2.8],[113700,2.4],[113720,2.9],[113735,3.3],[113745,2.0],[113760,2.6],[113770,1.8],
 [113847,5.0],[113800,4.2],[113820,3.8],[113864,3.3],[113880,2.7],[113897,2.1],[113905,2.5],[113790,3.0],[113780,2.3],[113835,2.9],
 [113920,1.9],[113950,2.2],[113990,1.6],[114010,2.0],[114034,2.9],[114040,2.5],[114060,2.3],[114070,2.7],[114100,1.8],[114130,1.5],[114160,2.0],[114185,2.6],[114220,1.4],[114260,1.7],[114300,1.3]];
const tbxSnps2 = [[113389,1.2],[113401,0.5],[113413,1.4],[113425,0.1],[113437,0.8],[113449,1.3],[113461,0.3],[113473,1.0],[113485,0.6],[113497,1.4],[113509,0.2],[113521,1.0],[113533,1.5],[113545,0.4],[113557,0.8],[113569,1.3],[113581,0.05],[113593,1.1],[113605,0.6],[113617,1.5],[113629,0.3],[113641,0.9],[113653,1.4],[113665,0.1],[113677,1.2],[113689,0.5],[113701,1.5],[113713,0.2],[113725,1.0],[113737,1.3],[113749,0.4],[113761,1.1],[113773,0.05],[113785,1.4],[113797,0.6],[113809,1.2],[113821,0.2],[113833,1.5],[113845,0.5],[113857,1.1],[113869,0.3],[113881,1.4],[113893,0.8],[113905,0.1],[113917,1.2],[113929,0.6],[113941,1.4],[113953,0.2],[113965,1.0],[113977,1.5],[113989,0.4],[114001,1.2],[114013,0.05],[114025,0.9],[114037,1.4],[114049,0.5],[114061,1.1],[114073,0.2],[114085,1.3],[114097,0.6],[114109,1.5],[114121,0.3],[114133,1.0],[114145,1.4],[114157,0.1],[114169,0.8],[114181,1.3],[114193,0.5],[114205,1.1],[114217,0.2],[114229,1.4],[114241,0.6],[114253,1.0],[114265,0.1],[114277,1.3],[114289,0.7],[114301,1.2],[114313,0.3],[114325,0.9]];
const tbxRed = [[113800,15.1],[113817,14.5],[113822,13.8],[113810,14.2]];
const tbxOrange = [[113839,13.1],[113847,12.7],[113830,12.5],[113856,12.1],[113843,11.9],[113805,10.8],[113850,12.4],[113805,6.5],[113813,6.0],[113830,5.8],[113822,5.6]];
const tbxRecomb = [[113360,2],[113380,1],[113395,4],[113405,1],[113407,60],[113409,1],[113430,3],[113450,1],[113470,2],[113490,1],[113500,8],[113504,1],[113525,2],[113545,1],[113557,2],[113559,39],[113561,1],[113580,3],[113600,1],[113617,2],[113619,31],[113621,1],[113640,2],[113658,1],[113660,12],[113662,1],[113685,3],[113705,1],[113720,10],[113723,1],[113745,2],[113761,1],[113763,22],[113765,1],[113790,2],[113810,1],[113835,3],[113855,1],[113876,2],[113878,39],[113880,1],[113905,2],[113925,1],[113945,3],[113964,1],[113966,34],[113968,1],[113985,2],[113998,1],[114000,15],[114002,1],[114025,2],[114045,1],[114057,2],[114059,55],[114061,1],[114075,2],[114091,1],[114093,60],[114095,1],[114120,2],[114140,1],[114150,10],[114153,1],[114175,3],[114198,1],[114200,12],[114202,1],[114225,2],[114248,1],[114250,9],[114253,1],[114280,2],[114300,1],[114312,2],[114314,44],[114316,1],[114340,3],[114370,1]];
const tbxGenes = [['TBX5',113330,113385,'-',1],['TBX3',113625,113640,'-',1]];

// ---- QQ plot ----
const qqDense = [[0,0],[0.5,0.7],[0.98,1.4],[1.5,2.05],[2.03,2.7],[2.5,3.35],[3.0,4.05],[3.3,4.6],[3.53,5.2],[3.65,5.9],[3.77,6.9],[3.85,7.8],[3.94,8.9],[4.02,10.0],[4.11,11.1],[4.2,12.1],[4.29,13.2],[4.38,14.3],[4.46,15.4],[4.55,16.4],[4.63,17.4],[4.7,18.1],[4.75,18.7]];
const qqTop = [[4.78,19.8],[4.81,21.3],[4.84,23.3],[4.88,25.2],[4.92,27.2],[4.95,28.1],[4.99,30.5],[5.02,31.8],[5.06,33.7],[5.10,35.0],[5.13,36.3],[5.21,42.2],[5.24,43.5],[5.27,44.8],[5.31,46.4],[5.33,46.8],[5.39,62.9],[5.41,63.5],[5.43,64.4],[5.48,65.8],[5.53,66.4],[5.60,68.4],[5.68,70.3],[5.79,72.5],[5.95,73.0],[6.11,73.6],[6.43,73.6]];
const qqRef = [[0,0],[6.9,6.9]];

// ---------------- LAYOUT / DRAWING ----------------
const W = 751, H = 800;
const FONT = '"Liberation Sans", Arial, Helvetica, sans-serif';
const GENE = '#2b8a2b';
const ROW_LINE = [17, 5, 7], ROW_LABEL = [24, 12, 20];

const panels = [
 {snps:meis1Snps, snps2:meis1Snps2, red:meis1Red, orange:meis1Orange, rec:meis1Recomb, genes:meis1Genes,
  title:'<b><i>MEIS1</i> region</b>', tsize:12, toff:8.5, xlab:'Chromosome 2 position (kb)',
  box:[29.3,229.3,26.7,237.3], xr:[66089,67170], xt:[66300,66600,66900],
  lr:[-4.19,11.2], lt:[0,2,4,6,8,10], showL:true, rr:[-13.3,73.4], rtxt:['0','2','4','6'], rTitle:false},
 {snps:scnSnps, snps2:scnSnps2, red:scnRed, orange:scnOrange, rec:scnRecomb, genes:scnGenes,
  title:'<b><i>SCN5A/SCN10A</i> region</b>', tsize:11.5, toff:8.5, xlab:'Chromosome 3 position (kb)',
  box:[274.3,474.3,26.7,237.3], xr:[38222,39297], xt:[38500,38800,39100],
  lr:[-30.2,80.7], lt:[0,2,4,6,8,10,12,14,16,18,20,22,24,26,28,30,32,34,36,38,40,42,44,46,48,50,52,54,56,58,60,62,64,66,68,70,72,74,76], showL:true, rr:[-13.3,73.4], rtxt:['0','20','40','60'], rTitle:false},
 {snps:argSnps, snps2:argSnps2, red:argRed, orange:argOrange, rec:argRecomb, genes:argGenes,
  title:'<b><i>ARGHGAP24</i> region</b>', tsize:11.5, toff:8.5, xlab:'Chromosome 4 position (kb)',
  box:[519.3,720.3,26.7,237.3], xr:[86323,87400], xt:[86600,86900,87200],
  lr:[-8.4,22.4], lt:[0,2,4,6,8,10,12,14,16,18,20], showL:true, rr:[-13.3,73.4], rtxt:['0','20','40','60'], rTitle:true},
 {snps:atpSnps, snps2:atpSnps2, red:atpRed, orange:atpOrange, rec:atpRecomb, genes:atpGenes,
  title:'<b><i>ATP6VOE1/C5orf41/BNIP1/NKX2-5</i> region</b>', tsize:11.5, toff:9.5, xlab:'Chromosome 5 position (kb)',
  box:[28.7,229.3,297.3,507.7], xr:[171921,172929], xt:[172100,172400,172700],
  lr:[-5.0,13.56], lt:[0,2,4,6,8,10,12], showL:true, rr:[-14.2,72.8], rtxt:['0','2','4','6'], rTitle:false},
 {snps:cavSnps, snps2:cavSnps2, red:cavRed, orange:cavOrange, rec:cavRecomb, genes:cavGenes,
  title:null, tsize:12.5, toff:12, xlab:'Chromosome 7 position (kb)',
  box:[273.7,474.3,297.3,507.7], xr:[115433,116527], xt:[115700,116000,116300],
  lr:[-10.87,29.48], lt:[0,2,4,6,8,10,12,14,16,18,20,22,24,26,28], showL:true, rr:[-13.8,73.2], rtxt:['0','2','4','6'], rTitle:false},
 {snps:wntSnps, snps2:wntSnps2, red:wntRed, orange:wntOrange, rec:wntRecomb, genes:wntGenes,
  title:'<b><i>WNT11</i> region</b>', tsize:12.5, toff:7, xlab:'Chromosome 11 position (kb)',
  box:[518.7,720.3,297.3,507.7], xr:[75040,76149], xt:[75300,75600,75900],
  lr:[-3.1,8.42], lt:[0,2,4,6,8], showL:true, rr:[-13.8,73.2], rtxt:['0','20','40','60'], rTitle:true},
 {snps:soxSnps, snps2:soxSnps2, red:soxRed, orange:soxOrange, rec:soxRecomb, genes:soxGenes,
  title:'<b><i>SOX5/C12orf67</i> region</b>', tsize:13.5, toff:13, xlab:'Chromosome 12 position (kb)',
  box:[27.7,229.3,562.3,767.3], xr:[24155,25216], xt:[24400,24700,25000],
  lr:[-5.03,12.95], lt:[0,2,4,6,8,10,12], showL:true, rr:[-12.5,71.3], rtxt:['0','20','40','60'], rTitle:true},
 {snps:tbxSnps, snps2:tbxSnps2, red:tbxRed, orange:tbxOrange, rec:tbxRecomb, genes:tbxGenes,
  title:'<b><i>TBX5/TBX3</i> region</b>', tsize:12, toff:12, xlab:'Chromosome 12 position (kb)',
  box:[266.7,466,562.3,767.3], xr:[113360,114370], xt:[113500,113800,114100],
  lr:[-7.14,18.4], lt:[0,2,4,6,8,10,12,14,16,18], showL:false, rr:[-13.3,71.1], rtxt:['0','20','40','60'], rTitle:true}
];

function axName(p, n){ return n === 1 ? p + 'axis' : p + 'axis' + n; }
function axRef(p, n){ return n === 1 ? p : p + n; }

const traces = [];
const annotations = [];
const layout = {
  width: W, height: H, margin:{l:0,r:0,t:0,b:0},
  paper_bgcolor:'#ffffff', plot_bgcolor:'rgba(0,0,0,0)', showlegend:false,
  font:{family:FONT, color:'#000', size:7}
};
const tickBase = {ticks:'outside', ticklen:3, tickwidth:0.8, tickcolor:'#000', showgrid:false, zeroline:false, fixedrange:true};

panels.forEach((p, i) => {
  const xn = i + 1, yb = 2*i + 1, yo = 2*i + 2;
  const xr = axRef('x', xn), ybr = axRef('y', yb), yor = axRef('y', yo);
  const [x0, x1, y0, y1] = p.box;
  const bh = y1 - y0;
  layout[axName('x', xn)] = Object.assign({}, tickBase, {
    domain:[x0/W, x1/W], anchor:ybr, range:p.xr, tickvals:p.xt, ticktext:p.xt.map(String),
    showline:true, mirror:true, linecolor:'#000', linewidth:1, tickfont:{size:6.5, family:FONT},
    title:{text:p.xlab, font:{size:8.5, family:FONT}, standoff:3}
  });
  layout[axName('y', yb)] = Object.assign({}, tickBase, {
    domain:[1 - y1/H, 1 - y0/H], anchor:xr, side:'right', range:p.rr,
    tickvals:[0,20,40,60], ticktext:p.rtxt, tickangle:-90, tickfont:{size:6.5, family:FONT},
    showline:true, mirror:true, linecolor:'#000', linewidth:1,
    title:{text: p.rTitle ? 'Recombination rate (cM/Mb)' : '', font:{size:8, family:FONT}, standoff:2}
  });
  layout[axName('y', yo)] = Object.assign({}, tickBase, {
    overlaying:ybr, anchor:xr, side:'left', range:p.lr, tickvals:p.lt, tickangle:-90,
    showticklabels:p.showL, tickfont:{size:6.5, family:FONT}, showline:false,
    title:{text: p.showL ? 'Observed (-logP)' : '', font:{size:6.5, family:FONT}, standoff:2}
  });
  // recombination rate
  traces.push({type:'scatter', mode:'lines', x:p.rec.map(d=>d[0]), y:p.rec.map(d=>d[1]),
    xaxis:xr, yaxis:ybr, line:{color:'#a3d3e6', width:1}, hoverinfo:'skip'});
  // genes
  const toY = px => p.lr[0] + px / bh * (p.lr[1] - p.lr[0]);
  p.genes.forEach(g => {
    const [name, s, e, strand, row] = g;
    const ly = toY(ROW_LINE[row]), ty = toY(ROW_LABEL[row]);
    traces.push({type:'scatter', mode:'lines', x:[s, e], y:[ly, ly], xaxis:xr, yaxis:yor,
      line:{color:GENE, width:1.2}, hoverinfo:'skip'});
    traces.push({type:'scatter', mode:'markers', x:[strand === '+' ? e : s], y:[ly], xaxis:xr, yaxis:yor,
      marker:{symbol: strand === '+' ? 'triangle-right' : 'triangle-left', size:3.5, color:GENE}, hoverinfo:'skip'});
    const cs = Math.max(s, p.xr[0]), ce = Math.min(e, p.xr[1]);
    annotations.push({x:(cs + ce)/2, y:ty, xref:xr, yref:yor, text:name, showarrow:false,
      font:{size:5.2, color:'#3a5f3a', family:FONT}});
  });
  // SNPs
  const all = p.snps.concat(p.snps2);
  traces.push({type:'scatter', mode:'markers', x:all.map(d=>d[0]), y:all.map(d=>d[1]), xaxis:xr, yaxis:yor,
    marker:{symbol:'circle-open', size:4.8, color:'#111', line:{width:0.8}}, hoverinfo:'skip'});
  traces.push({type:'scatter', mode:'markers', x:p.orange.map(d=>d[0]), y:p.orange.map(d=>d[1]), xaxis:xr, yaxis:yor,
    marker:{symbol:'circle', size:5, color:'#e3952b', line:{width:0.6, color:'#000'}}, hoverinfo:'skip'});
  traces.push({type:'scatter', mode:'markers', x:p.red.map(d=>d[0]), y:p.red.map(d=>d[1]), xaxis:xr, yaxis:yor,
    marker:{symbol:'circle', size:5, color:'#c0141c', line:{width:0.6, color:'#000'}}, hoverinfo:'skip'});
  traces.push({type:'scatter', mode:'markers', x:[leadPos[i]], y:[leadLogP[i]], xaxis:xr, yaxis:yor,
    marker:{symbol:'diamond', size:9, color:'#3aa655', line:{width:1, color:'#1d5e22'}}, hoverinfo:'skip'});
  traces.push({type:'scatter', mode:'markers', x:[leadPos[i]], y:[leadLogP[i]], xaxis:xr, yaxis:yor,
    marker:{symbol:'circle', size:3.5, color:'#d01010'}, hoverinfo:'skip'});
  annotations.push({x:leadPos[i], y:leadLogP[i], xref:xr, yref:yor, text:leadSnp[i], showarrow:false,
    xanchor:'right', xshift:-4, font:{size:5.5, family:FONT}});
  annotations.push({x:leadPos[i], y:leadLogP[i], xref:xr, yref:yor, text:leadPval[i], showarrow:false,
    xanchor:'left', xshift:6, font:{size:5.5, family:FONT}});
  // panel title
  const cx = (x0 + x1)/2/W, cy = 1 - (y0 - p.toff)/H;
  if (p.title) {
    annotations.push({x:cx, y:cy, xref:'paper', yref:'paper', text:p.title,
      showarrow:false, xanchor:'center', yanchor:'middle', font:{size:p.tsize, family:FONT, color:'#000'}});
  } else {
    annotations.push({x:cx, y:cy, xref:'paper', yref:'paper', text:'<b><i>CAV2/CAV1</i></b>', xshift:-12,
      showarrow:false, xanchor:'center', yanchor:'middle', font:{size:p.tsize, family:FONT, color:'#000'}});
    annotations.push({x:cx, y:cy, xref:'paper', yref:'paper', text:'region', xshift:27, yshift:-1.5,
      showarrow:false, xanchor:'left', yanchor:'middle', font:{size:8.5, family:FONT, color:'#000'}});
  }
});

// QQ panel
const qb = [510.3, 708.7, 563.3, 766];
layout.xaxis9 = Object.assign({}, tickBase, {domain:[qb[0]/W, qb[1]/W], anchor:'y17', range:[-0.21,6.7],
  tickvals:[0,1,2,3,4,5,6], tickcolor:'#888', showline:true, mirror:true, linecolor:'#999', linewidth:1,
  tickfont:{size:5.5, color:'#666', family:FONT}, title:{text:'expected -log10 p-value', font:{size:6, color:'#666', family:FONT}, standoff:4}});
layout.yaxis17 = Object.assign({}, tickBase, {domain:[1 - qb[3]/H, 1 - qb[2]/H], anchor:'x9', range:[-3.3,76.6],
  tickvals:[0,20,40,60], tickangle:-90, tickcolor:'#888', showline:true, mirror:true, linecolor:'#999', linewidth:1,
  tickfont:{size:5.5, color:'#666', family:FONT}, title:{text:'observed -log10 p-value', font:{size:6, color:'#666', family:FONT}, standoff:6}});
traces.push({type:'scatter', mode:'lines', x:qqRef.map(d=>d[0]), y:qqRef.map(d=>d[1]), xaxis:'x9', yaxis:'y17',
  line:{color:'#e06060', width:0.8}, hoverinfo:'skip'});
traces.push({type:'scatter', mode:'lines', x:qqDense.map(d=>d[0]), y:qqDense.map(d=>d[1]), xaxis:'x9', yaxis:'y17',
  line:{color:'#000', width:2.6}, hoverinfo:'skip'});
traces.push({type:'scatter', mode:'markers', x:qqTop.map(d=>d[0]), y:qqTop.map(d=>d[1]), xaxis:'x9', yaxis:'y17',
  marker:{symbol:'circle', size:2, color:'#000'}, hoverinfo:'skip'});
annotations.push({x:(qb[0] + qb[1])/2/W, y:1 - 552/H, xref:'paper', yref:'paper',
  text:'<b>Q-Q-Plot for additive model PR metaanalysis</b>', showarrow:false, font:{size:6.2, family:FONT}});

layout.annotations = annotations;
Plotly.newPlot('plot', traces, layout, {displayModeBar:false, staticPlot:true});
</script>
</body></html>
